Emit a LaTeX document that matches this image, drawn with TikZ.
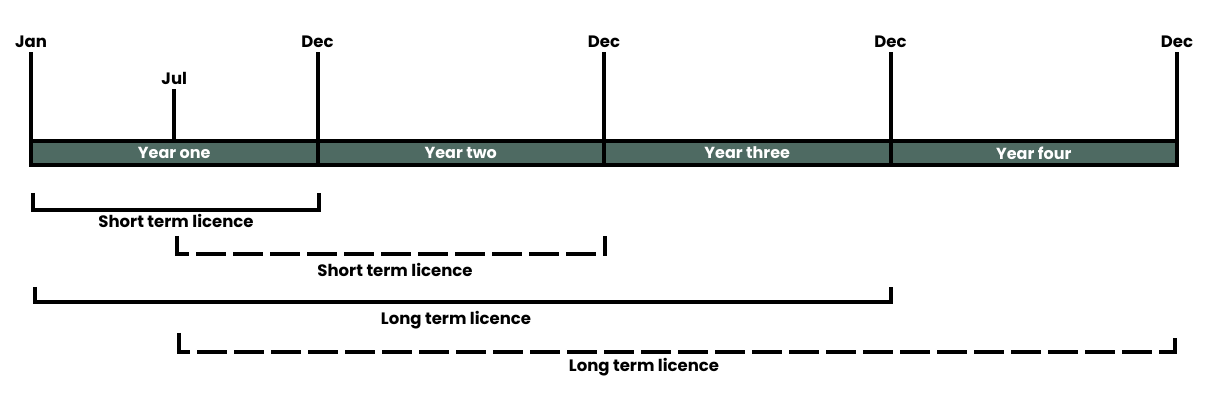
\documentclass[tikz,border=0pt]{standalone}
\usepackage{fontspec}
\setmainfont{Poppins}
\usetikzlibrary{positioning}
\definecolor{barfill}{HTML}{4E6A62}

\tikzset{
    year/.style={draw, line width=4pt, fill=barfill, text=white, font=\bfseries\fontsize{16}{18}\selectfont,
                 minimum width=286.5pt, minimum height=24pt, inner sep=0pt, outer sep=0pt},
    tick/.style={line width=4pt},
    month/.style={font=\bfseries\fontsize{16.5}{18}\selectfont, inner sep=0pt},
    bracket/.style={line width=4pt},
    dashbracket/.style={line width=4pt, dash pattern=on 30pt off 7pt},
    lic/.style={font=\bfseries\fontsize{16.5}{18}\selectfont, inner sep=1pt}
}

\begin{document}
\begin{tikzpicture}[x=1pt, y=1pt]
    \useasboundingbox (0,0) rectangle (1212,403);

    % the four years
    \node[year] (y1) at (174.25,250) {Year one};
    \node[year] (y2) [right=0pt of y1] {Year two};
    \node[year] (y3) [right=0pt of y2] {Year three};
    \node[year] (y4) [right=0pt of y3] {Year four};

    % month marks
    \draw[tick] (y1.north west) -- ++(0,89) coordinate (t0);
    \draw[tick] (y1.north east) -- ++(0,89) coordinate (t1);
    \draw[tick] (y2.north east) -- ++(0,89) coordinate (t2);
    \draw[tick] (y3.north east) -- ++(0,89) coordinate (t3);
    \draw[tick] (y4.north east) -- ++(0,89) coordinate (t4);
    \draw[tick] (y1.north) -- ++(0,52) coordinate (tj);

    \node[month] (jan) [above=4pt of t0] {Jan};
    \node[month] (dec1) [above=4pt of t1] {Dec};
    \node[month] (dec2) [above=4pt of t2] {Dec};
    \node[month] (dec3) [above=4pt of t3] {Dec};
    \node[month] (dec4) [above=4pt of t4] {Dec};
    \node[month] (jul) [above=4pt of tj] {Jul};

    % licence periods
    \coordinate (s1l) at (33,210);   \coordinate (s1r) at (319,193);
    \coordinate (s2l) at (177,167);  \coordinate (s2r) at (605,149);
    \coordinate (l1l) at (35,116);   \coordinate (l1r) at (891,101);
    \coordinate (l2l) at (179,70);   \coordinate (l2r) at (1175,51);

    \draw[bracket] (s1l) |- (s1r) -- (s1r |- s1l);
    \draw[dashbracket] (s2l) |- (s2r) -- (s2r |- s2l);
    \draw[bracket] (l1l) |- (l1r) -- (l1r |- l1l);
    \draw[dashbracket] (l2l) |- (l2r) -- (l2r |- l2l);

    \node[lic] (s1) at (176,182) {Short term licence};
    \node[lic] (s2) at (395,133) {Short term licence};
    \node[lic] (l1) at (456,83) {Long term licence};
    \node[lic] (l2) at (644,36) {Long term licence};
\end{tikzpicture}
\end{document}
